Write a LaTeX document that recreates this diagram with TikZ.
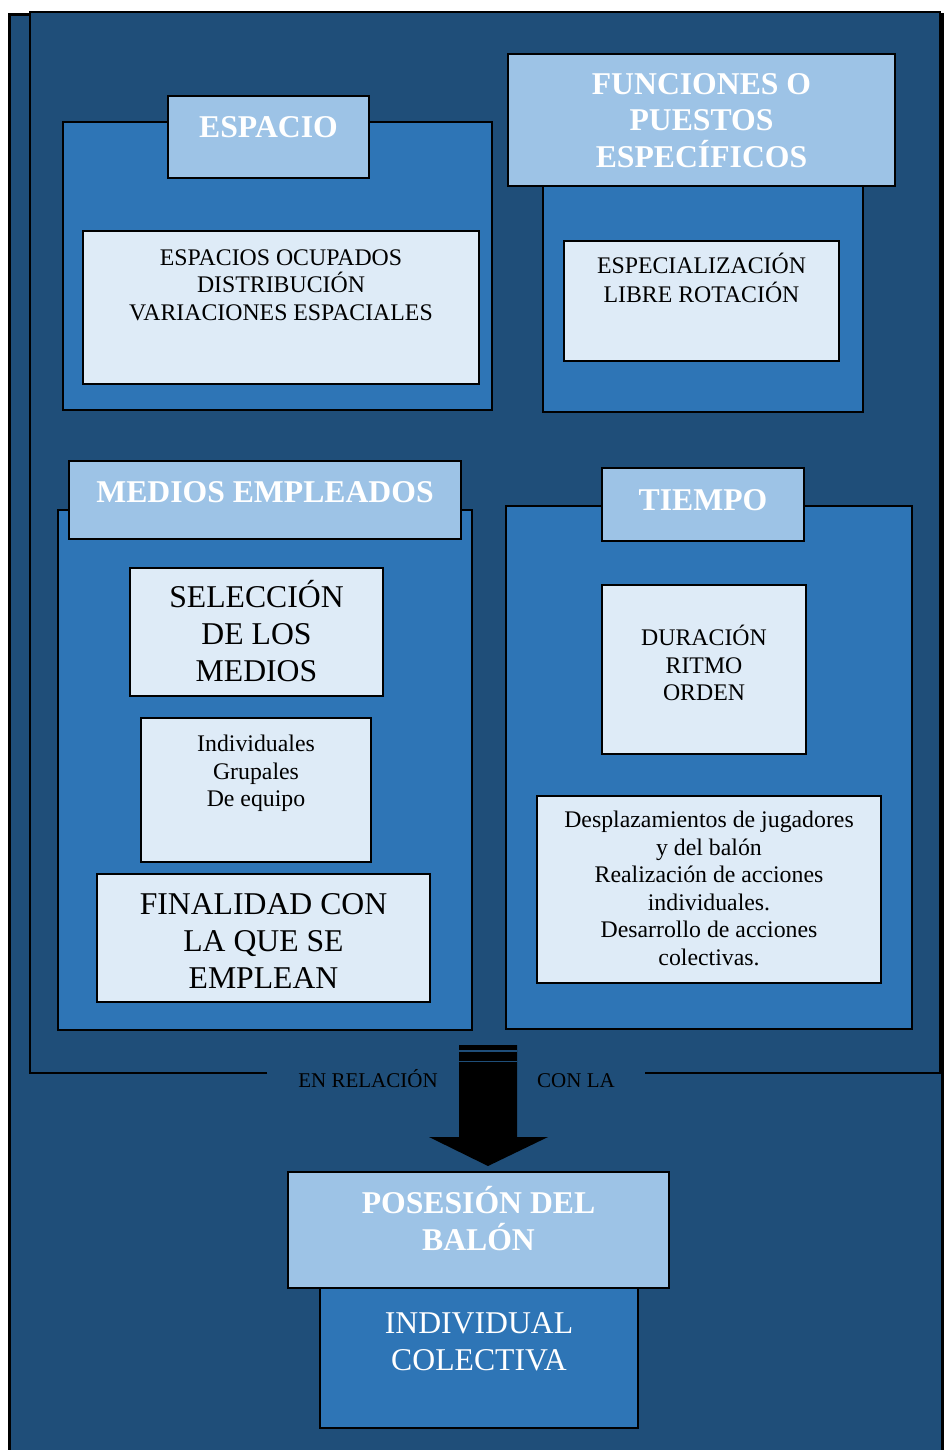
\documentclass[tikz,border=0pt]{standalone}
\usepackage{fontspec}
\setmainfont{Liberation Serif}
\usetikzlibrary{fit}
\definecolor{navy}{HTML}{1F4E79}
\definecolor{panelblue}{HTML}{2E75B6}
\definecolor{headblue}{HTML}{9DC3E6}
\definecolor{paleblue}{HTML}{DEEBF7}
\newcommand{\smallsize}{\fontsize{23.8}{27.5}\selectfont}
\newcommand{\largesize}{\fontsize{31.7}{37}\selectfont}
\newcommand{\headsize}{\bfseries\fontsize{31.7}{36.8}\selectfont}
\begin{document}
\begin{tikzpicture}[x=1pt,y=-1pt,
  panel/.style={draw=black, line width=1.8pt, fill=panelblue, inner sep=0pt},
  header/.style={draw=black, line width=1.8pt, fill=headblue, inner sep=0pt},
  card/.style={draw=black, line width=2.2pt, fill=paleblue, inner sep=0pt},
  headtext/.style={font=\headsize, text=white, align=center, inner sep=0pt, anchor=base},
  smalltext/.style={font=\smallsize, text=black, align=center, inner sep=0pt, anchor=base},
  largetext/.style={font=\largesize, text=black, align=center, inner sep=0pt, anchor=base},
  relation/.style={font=\fontsize{21}{25}\selectfont, text=black, inner sep=0pt, anchor=base}]
\useasboundingbox (0,0) rectangle (944,1450);
\clip (0,0) rectangle (944,1450);

% back sheet and main frame
\draw[line width=3pt, fill=navy] (9.5,15) rectangle (942,1480);
\node[fill=navy, inner sep=0pt, fit={(30,12) (940,1073)}] (frame) {};
\draw[line width=2pt] (267,1073) -- (30,1073) -- (30,12) -- (940,12) -- (940,1073) -- (645,1073);

% ESPACIO (text nodes are anchored on the baseline of their last line)
\node[panel, fit={(63,122) (492,410)}] (espacio) {};
\node[header, fit={(168,96) (369,178)}] (espacio-head) {};
\node[card, fit={(83,231) (479,384)}] (espacio-card) {};
\node[headtext] (espacio-title) at (espacio-head.north |- 0,138) {ESPACIO};
\node[smalltext] (espacio-list) at (espacio-card.north |- 0,320)
  {ESPACIOS OCUPADOS\\DISTRIBUCIÓN\\VARIACIONES ESPACIALES};

% FUNCIONES O PUESTOS ESPECIFICOS
\node[panel, fit={(543,150) (863,412)}] (funciones) {};
\node[header, fit={(508,54) (895,186)}] (funciones-head) {};
\node[card, fit={(564,241) (839,361)}] (funciones-card) {};
\node[headtext] (funciones-title) at (funciones-head.north |- 0,167.7)
  {FUNCIONES O\\PUESTOS\\ESPECÍFICOS};
\node[smalltext] (funciones-list) at (funciones-card.north |- 0,302.7)
  {ESPECIALIZACIÓN\\[1.5pt]LIBRE ROTACIÓN};

% MEDIOS EMPLEADOS
\node[panel, fit={(58,510) (472,1030)}] (medios) {};
\node[header, fit={(69,461) (461,539)}] (medios-head) {};
\node[card, fit={(130,568) (383,696)}] (seleccion) {};
\node[card, fit={(141,718) (371,862)}] (tipos) {};
\node[card, fit={(97,874) (430,1002)}] (finalidad) {};
\node[headtext] (medios-title) at (medios-head.north |- 0,502.7) {MEDIOS EMPLEADOS};
\node[largetext] (seleccion-text) at (seleccion.north |- 0,681.7) {SELECCIÓN\\DE LOS\\MEDIOS};
\node[smalltext] (tipos-text) at (tipos.north |- 0,806.7) {Individuales\\Grupales\\De equipo};
\node[largetext] (finalidad-text) at (finalidad.north |- 0,988.3) {FINALIDAD CON\\LA QUE SE\\EMPLEAN};

% TIEMPO
\node[panel, fit={(506,506) (912,1029)}] (tiempo) {};
\node[header, fit={(602,468) (804,541)}] (tiempo-head) {};
\node[card, fit={(602,585) (806,754)}] (duracion) {};
\node[card, fit={(537,796) (881,983)}] (acciones) {};
\node[headtext] (tiempo-title) at (tiempo-head.north |- 0,510) {TIEMPO};
\node[smalltext] (duracion-text) at (duracion.north |- 0,700.7) {DURACIÓN\\RITMO\\ORDEN};
\node[smalltext] (acciones-text) at (acciones.north |- 0,965)
  {Desplazamientos de jugadores\\y del balón\\Realización de acciones\\individuales.\\Desarrollo de acciones\\colectivas.};

% relation labels and block arrow
\node[relation] (rel-left) at (368,1087) {EN RELACIÓN};
\node[relation] (rel-right) at (576,1087) {CON LA};
\coordinate (arrow-start) at (488,1045);
\coordinate (arrow-tip) at (488,1166);
\fill[black] (arrow-start) ++(-29,0) -- ++(58,0) -- (517,1137) -- (548,1137)
  -- (arrow-tip) -- (429,1137) -- (459,1137) -- cycle;
\draw[navy, line width=1.3pt] (459,1051) -- (517,1051);
\draw[navy, line width=1.3pt] (459,1061.5) -- (517,1061.5);

% POSESION DEL BALON
\node[panel, fit={(320,1250) (638,1428)}] (posesion) {};
\node[header, fit={(288,1172) (669,1288)}] (posesion-head) {};
\node[headtext] (posesion-title) at (posesion-head.north |- 0,1250.7) {POSESIÓN DEL\\BALÓN};
\node[largetext, text=white] (posesion-text) at (posesion.north |- 0,1370.7) {INDIVIDUAL\\COLECTIVA};
\end{tikzpicture}
\end{document}
